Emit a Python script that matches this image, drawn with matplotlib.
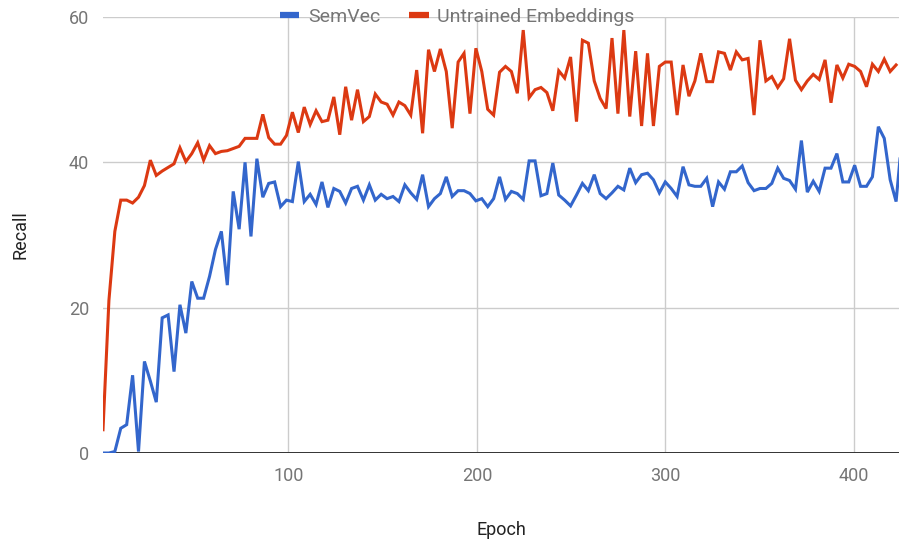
import numpy as np
import matplotlib
matplotlib.use('Agg')
import matplotlib.pyplot as plt
from matplotlib.lines import Line2D

SERIES_NAMES = ['SemVec', 'Untrained Embeddings']
COLORS = ['#3366cc', '#dc3912']

# recall was logged roughly every 3.14 epochs
EPOCH_START = 1.6
EPOCH_STEP = 3.14

semvec = [
    0.0, 0.0, 0.2, 3.4, 3.9, 10.7, 0.2, 12.6, 9.9, 7.0,
    18.6, 19.0, 11.2, 20.4, 16.5, 23.6, 21.3, 21.3, 24.3, 28.0,
    30.5, 23.1, 36.0, 30.8, 40.0, 29.8, 40.5, 35.2, 37.1, 37.3,
    33.9, 34.8, 34.6, 40.1, 34.6, 35.6, 34.2, 37.3, 33.8, 36.4,
    36.0, 34.4, 36.4, 36.7, 34.8, 36.9, 34.8, 35.6, 35.0, 35.3,
    34.6, 36.9, 35.8, 34.9, 38.3, 33.9, 35.0, 35.7, 38.0, 35.3,
    36.1, 36.1, 35.7, 34.7, 35.0, 33.9, 35.0, 38.0, 34.9, 36.0,
    35.7, 34.9, 40.2, 40.2, 35.4, 35.7, 39.9, 35.5, 34.8, 34.0,
    35.5, 37.1, 36.1, 38.3, 35.7, 35.0, 35.8, 36.7, 36.2, 39.2,
    37.2, 38.3, 38.5, 37.6, 35.8, 37.3, 36.4, 35.3, 39.4, 36.9,
    36.7, 36.7, 37.8, 33.9, 37.3, 36.3, 38.7, 38.7, 39.5, 37.2,
    36.1, 36.4, 36.4, 37.1, 39.2, 37.8, 37.5, 36.3, 43.0, 35.9,
    37.4, 36.0, 39.2, 39.2, 41.2, 37.3, 37.3, 39.6, 36.7, 36.7,
    38.0, 44.9, 43.3, 37.6, 34.6, 43.5,
]

untrained = [
    3.2, 21.0, 30.5, 34.8, 34.8, 34.4, 35.2, 36.8, 40.3, 38.2,
    38.8, 39.3, 39.8, 42.0, 40.1, 41.2, 42.7, 40.3, 42.3, 41.2,
    41.5, 41.6, 41.9, 42.2, 43.3, 43.3, 43.3, 46.6, 43.4, 42.5,
    42.5, 43.7, 46.9, 44.1, 47.6, 45.2, 47.1, 45.6, 45.8, 49.0,
    43.8, 50.4, 45.8, 50.0, 45.6, 46.3, 49.4, 48.3, 48.0, 46.5,
    48.3, 47.8, 46.5, 52.7, 44.0, 55.5, 52.5, 55.6, 52.5, 44.7,
    53.8, 55.0, 46.7, 55.7, 52.5, 47.3, 46.5, 52.4, 53.2, 52.5,
    49.5, 58.2, 48.9, 50.0, 50.3, 49.6, 47.1, 52.6, 51.6, 54.5,
    45.6, 56.8, 56.4, 51.2, 48.8, 47.4, 57.1, 46.7, 58.2, 46.3,
    55.3, 45.0, 55.0, 45.0, 53.2, 53.8, 53.8, 46.5, 53.4, 49.1,
    51.2, 55.0, 51.1, 51.1, 55.2, 55.0, 52.7, 55.2, 54.1, 54.3,
    46.5, 56.8, 51.2, 51.8, 50.3, 51.5, 57.0, 51.3, 50.0, 51.2,
    52.1, 51.4, 54.1, 48.2, 53.4, 51.6, 53.5, 53.2, 52.5, 50.4,
    53.5, 52.5, 54.2, 52.5, 53.4,
]

x_ticks = [100, 200, 300, 400]
y_ticks = [0, 20, 40, 60]

plt.rcParams['font.family'] = ['Roboto', 'DejaVu Sans']

fig = plt.figure(figsize=(8.99, 5.39), dpi=100)
ax = fig.add_axes([103 / 899, 86 / 539, 796 / 899, 436 / 539])

for name, color, values in zip(SERIES_NAMES, COLORS, [semvec, untrained]):
    epochs = EPOCH_START + EPOCH_STEP * np.arange(len(values))
    ax.plot(epochs, values, color=color, lw=2.2, label=name, zorder=3,
            solid_joinstyle='miter')

ax.set_xlim(EPOCH_START, 423.9)
ax.set_ylim(0, 60)
ax.set_xticks(x_ticks)
ax.set_yticks(y_ticks)

ax.grid(True, color='#cccccc', lw=1.0)
ax.set_axisbelow(True)
ax.axhline(0, color='#333333', lw=1.4, zorder=2)
for side in ['top', 'right', 'left', 'bottom']:
    ax.spines[side].set_visible(False)

ax.tick_params(length=0, labelsize=13, labelcolor='#757575')
ax.tick_params(axis='x', pad=10)
ax.tick_params(axis='y', pad=10)

ax.set_xlabel('Epoch', fontsize=13, color='#222222', labelpad=26)
ax.set_ylabel('Recall', fontsize=13, color='#222222', labelpad=28)

handles = [Line2D([], [], color=c, lw=4.5, solid_capstyle='butt') for c in COLORS]
ax.legend(handles, SERIES_NAMES, loc='center', bbox_to_anchor=(0.445, 1.0),
          ncol=2, frameon=False, fontsize=14, labelcolor='#757575',
          handlelength=1.0, handletextpad=0.45, columnspacing=1.5,
          borderaxespad=0)

fig.savefig('out.png', dpi=100)
